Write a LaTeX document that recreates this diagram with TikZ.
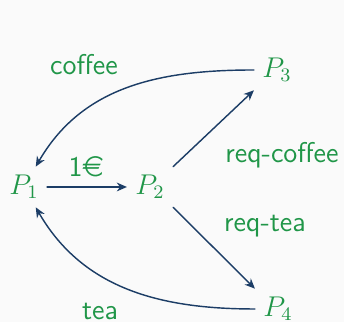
\documentclass[tikz,border=0pt]{standalone}
\usepackage{amsmath,amssymb}
\usepackage{eurosym}
\usepackage{tikz}
\usepackage{xcolor}
\usetikzlibrary{arrows.meta,positioning}
\definecolor{procgreen}{RGB}{32,150,72}
\definecolor{msgblue}{RGB}{28,61,102}
\definecolor{slidebg}{RGB}{250,250,250}
\tikzset{
  every picture/.append style={line cap=round,line join=round},
  proc node/.style={text=procgreen,font=\large},
  msg label/.style={text=procgreen,font=\large\sffamily},
  msg arrow/.style={msgblue,semithick,-{Stealth[length=1.5mm,width=1.3mm]}}
}
\begin{document}
\begin{tikzpicture}[x=0.42pt, y=0.42pt]
  \fill[slidebg] (0,0) rectangle (344,322);
  \useasboundingbox (0,0) rectangle (344,322);
  % processes
  \node[proc node] (p1) at (24,135) {$P_1$};
  \node[proc node] (p2) at (150,135) {$P_2$};
  \node[proc node] (p3) at (277,252) {$P_3$};
  \node[proc node] (p4) at (278,13) {$P_4$};
  % messages
  \draw[msg arrow] (p1) -- (p2);
  \draw[msg arrow] (p2.north east) -- (p3.south west);
  \draw[msg arrow] (p2.south east) -- (p4.north west);
  \draw[msg arrow] (p3.west) to[out=180,in=60] (p1);
  \draw[msg arrow] (p4.west) to[out=180,in=-60] (p1);
  \node[msg label] (pay) at (86,155) {1\euro};
  \node[msg label] (coffee) at (84,257) {coffee};
  \node[msg label] (reqcoffee) at (282,167) {req-coffee};
  \node[msg label] (reqtea) at (265,96) {req-tea};
  \node[msg label] (tea) at (100,11) {tea};
\end{tikzpicture}
\end{document}
